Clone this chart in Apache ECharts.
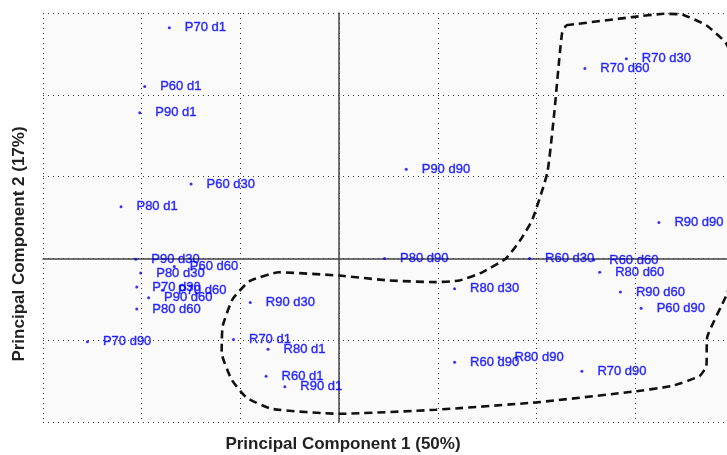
<!DOCTYPE html>
<html>
<head>
<meta charset="utf-8">
<script src="https://cdn.jsdelivr.net/npm/echarts@6/dist/echarts.min.js"></script>
<style>html,body{margin:0;padding:0;background:#fff;}#c{width:727px;height:455px;}</style>
</head>
<body>
<div id="c"></div>
<script>
var names = ['P70 d1','P60 d1','P90 d1','P60 d30','P80 d1','P90 d30','P60 d60','P80 d30','P70 d30','P70 d60','P90 d60','P80 d60','P70 d90',
  'R90 d30','R70 d1','R80 d1','R60 d1','R90 d1','R70 d30','R70 d60','P90 d90','R90 d90','P80 d90','R60 d30','R60 d60','R80 d60','R80 d30','R90 d60','P60 d90','R60 d90','R80 d90','R70 d90'];
var pc1 = [-1.72,-1.97,-2.02,-1.50,-2.21,-2.06,-1.67,-2.01,-2.05,-1.79,-1.93,-2.05,-2.55,
  -0.90,-1.07,-0.72,-0.74,-0.55,2.91,2.49,0.68,3.24,0.46,1.93,2.58,2.64,1.17,2.85,3.06,1.17,1.62,2.46];
var pc2 = [2.82,2.10,1.78,0.91,0.63,-0.01,-0.10,-0.18,-0.35,-0.39,-0.48,-0.62,-1.02,
  -0.54,-0.99,-1.11,-1.44,-1.57,2.44,2.32,1.09,0.44,0.00,0.00,-0.02,-0.17,-0.37,-0.41,-0.61,-1.27,-1.21,-1.38];

var boundaryX = [2.30,2.97,3.29,3.48,3.72,3.92,4.07,4.13,4.05,3.92,3.73,3.72,3.65,3.37,2.97,2.00,0.98,0,-0.68,-0.94,-1.09,-1.19,-1.18,-1.08,-0.91,-0.61,0,0.51,0.98,1.22,1.45,1.69,1.84,1.96,2.11,2.18,2.23,2.26,2.30];
var boundaryY = [2.85,2.95,2.99,2.98,2.85,2.63,2.18,1.09,-0.01,-0.46,-0.96,-1.32,-1.44,-1.56,-1.63,-1.76,-1.85,-1.90,-1.84,-1.70,-1.48,-1.15,-0.83,-0.50,-0.28,-0.17,-0.21,-0.27,-0.29,-0.27,-0.17,0.0,0.23,0.48,1.05,1.78,2.43,2.76,2.85];

var xTitle = 'Principal Component 1 (50%)';
var yTitle = 'Principal Component 2 (17%)';

var pts = names.map(function(n,i){ return {name:n, value:[pc1[i], pc2[i]]}; });
var bnd = boundaryX.map(function(x,i){ return [x, boundaryY[i]]; });

var chart = echarts.init(document.getElementById('c'), null, {renderer:'canvas'});
var gridLine = {show:true, lineStyle:{color:'#333', type:[1,4], width:1}};
chart.setOption({
  animation:false,
  backgroundColor:'#fff',
  grid:{left:43, top:13, right:0, bottom:33, show:true, backgroundColor:'#fafafa', borderWidth:0},
  xAxis:{type:'value', min:-3, max:3.93, interval:1, axisLabel:{show:false}, axisTick:{show:false},
    axisLine:{show:true, onZero:true, lineStyle:{color:'#444', width:1.5}}, splitLine:gridLine},
  yAxis:{type:'value', min:-2, max:3, interval:1, axisLabel:{show:false}, axisTick:{show:false},
    axisLine:{show:true, onZero:true, lineStyle:{color:'#444', width:1.5}}, splitLine:gridLine},
  series:[
    {type:'line', data:bnd, showSymbol:false, symbol:'none', smooth:0.15, clip:false, silent:true,
      lineStyle:{color:'#111', width:2.6, type:[8,5]}, z:3},
    {type:'scatter', data:pts, symbolSize:3, itemStyle:{color:'#0000ff'}, z:4,
      label:{show:true, position:'right', distance:14, formatter:'{b}', color:'#0000ff',
        textBorderColor:'#0000ff', textBorderWidth:0.4,
        fontFamily:'Liberation Sans, Arial, sans-serif', fontSize:13}}
  ],
  graphic:[
    {type:'text', x:343, y:444, style:{text:xTitle, fill:'#222', font:'bold 17px "Liberation Sans", Arial, sans-serif', textAlign:'center', textVerticalAlign:'middle'}},
    {type:'text', x:19, y:244, rotation:Math.PI/2, style:{text:yTitle, fill:'#222', font:'bold 17px "Liberation Sans", Arial, sans-serif', textAlign:'center', textVerticalAlign:'middle'}}
  ]
});
</script>
</body>
</html>
